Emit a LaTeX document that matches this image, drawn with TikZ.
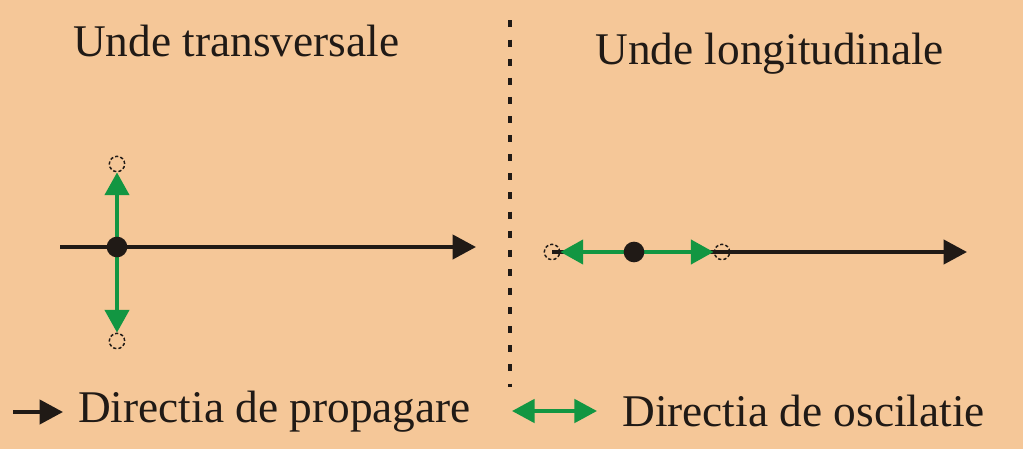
\documentclass[tikz,border=0pt]{standalone}
\usepackage{fontspec}
\setmainfont{Liberation Serif}
\usetikzlibrary{arrows.meta}
\definecolor{bgpeach}{RGB}{245,199,152}
\definecolor{ink}{RGB}{32,26,22}
\definecolor{wavegreen}{RGB}{18,150,66}
\tikzset{
  blackline/.style={draw=ink, line width=3pt},
  greenline/.style={draw=wavegreen, line width=3pt},
  blackhead/.style={-{Triangle[length=17.5pt,width=18pt]}},
  greenhead/.style={-{Triangle[length=17pt,width=18pt]}},
  greenboth/.style={{Triangle[length=17pt,width=17.5pt]}-{Triangle[length=17pt,width=17.5pt]}},
  particle/.style={circle, fill=ink, inner sep=0pt, minimum size=15.5pt},
  ghost/.style={circle, draw=ink, dash pattern=on 2.4pt off 1.6pt, line width=1.1pt, inner sep=0pt, minimum size=11.5pt},
  label/.style={text=ink, font=\fontsize{34}{40}\selectfont, inner sep=0pt, anchor=base west},
  divider/.style={draw=ink, line width=2.3pt, dash pattern=on 5.25pt off 9.08pt}
}
\begin{document}
\begin{tikzpicture}[x=0.75pt,y=-0.75pt]
\fill[bgpeach] (0,0) rectangle (1023,449);
\useasboundingbox (0,0) rectangle (1023,449);

% titles
\node[label] (t1) at (73,57) {Unde transversale};
\node[label] (t2) at (595,65) {Unde longitudinale};

% divider
\coordinate (dvtop) at (510,20.5);
\coordinate (dvbot) at (510,387);
\draw[divider] (dvtop) -- (dvbot);

% transverse wave
\coordinate (lstart) at (60,247);
\coordinate (lend) at (476,247);
\coordinate (dotLc) at (117,247);
\node[ghost] (gTop) at (117,164) {};
\node[ghost] (gBot) at (117,341) {};
\draw[blackline, blackhead] (lstart) -- (lend);
\draw[greenline, greenhead] (dotLc) -- (gTop);
\draw[greenline, greenhead] (dotLc) -- (gBot);
\node[particle] (dotL) at (dotLc) {};

% longitudinal wave
\coordinate (rstart) at (552,252);
\coordinate (rend) at (967,252);
\coordinate (dotRc) at (634,252);
\draw[blackline, blackhead] (rstart) -- (rend);
\node[ghost] (gLeft) at (552,252) {};
\node[ghost] (gRight) at (722,252) {};
\draw[greenline, greenhead] (dotRc) -- (gLeft);
\draw[greenline, greenhead] (dotRc) -- (gRight);
\node[particle] (dotR) at (dotRc) {};

% legend
\coordinate (k1a) at (13,412);
\coordinate (k1b) at (63,412);
\draw[blackline, blackhead] (k1a) -- (k1b);
\node[label] (leg1) at (78,422) {Directia de propagare};
\coordinate (k2a) at (512,411);
\coordinate (k2b) at (597,411);
\draw[greenline, greenboth] (k2a) -- (k2b);
\node[label] (leg2) at (622,426) {Directia de oscilatie};
\end{tikzpicture}
\end{document}
